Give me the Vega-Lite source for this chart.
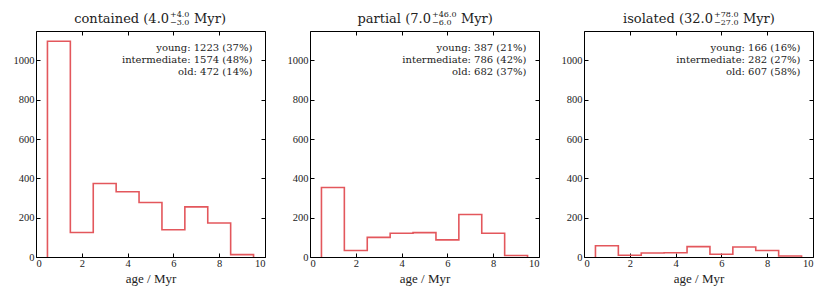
{
  "$schema": "https://vega.github.io/schema/vega-lite/v6.json",
  "background": "white",
  "padding": {"left": 12, "top": 10, "right": 5, "bottom": 5},
  "spacing": 45,
  "bounds": "flush",
  "config": {
    "font": "Liberation Serif",
    "view": {"stroke": "black", "strokeWidth": 1},
    "style": {
      "guide-label": {"font": "Liberation Serif", "fontSize": 10.5, "fill": "#222222"},
      "guide-title": {"font": "Liberation Serif", "fontSize": 13, "fill": "#222222", "fontWeight": "normal"}
    },
    "axis": {
      "grid": false,
      "domain": false,
      "tickColor": "black",
      "tickSize": -4,
      "tickWidth": 1,
      "labelFont": "Liberation Serif",
      "labelFontSize": 10.5,
      "labelColor": "#222222",
      "titleFont": "Liberation Serif",
      "titleFontSize": 13,
      "titleFontWeight": "normal",
      "titleColor": "#222222",
      "format": "d"
    }
  },
  "datasets": {
    "hist": [
      {"panel": "contained", "i": 0, "age": 0.5, "count": 0},
      {"panel": "contained", "i": 1, "age": 0.5, "count": 1098},
      {"panel": "contained", "i": 2, "age": 1.5, "count": 125},
      {"panel": "contained", "i": 3, "age": 2.5, "count": 374},
      {"panel": "contained", "i": 4, "age": 3.5, "count": 332},
      {"panel": "contained", "i": 5, "age": 4.5, "count": 277},
      {"panel": "contained", "i": 6, "age": 5.5, "count": 139},
      {"panel": "contained", "i": 7, "age": 6.5, "count": 255},
      {"panel": "contained", "i": 8, "age": 7.5, "count": 173},
      {"panel": "contained", "i": 9, "age": 8.5, "count": 12},
      {"panel": "contained", "i": 10, "age": 9.5, "count": 0},
      {"panel": "partial", "i": 0, "age": 0.5, "count": 0},
      {"panel": "partial", "i": 1, "age": 0.5, "count": 354},
      {"panel": "partial", "i": 2, "age": 1.5, "count": 33},
      {"panel": "partial", "i": 3, "age": 2.5, "count": 100},
      {"panel": "partial", "i": 4, "age": 3.5, "count": 121},
      {"panel": "partial", "i": 5, "age": 4.5, "count": 124},
      {"panel": "partial", "i": 6, "age": 5.5, "count": 87},
      {"panel": "partial", "i": 7, "age": 6.5, "count": 216},
      {"panel": "partial", "i": 8, "age": 7.5, "count": 121},
      {"panel": "partial", "i": 9, "age": 8.5, "count": 8},
      {"panel": "partial", "i": 10, "age": 9.5, "count": 0},
      {"panel": "isolated", "i": 0, "age": 0.5, "count": 0},
      {"panel": "isolated", "i": 1, "age": 0.5, "count": 57},
      {"panel": "isolated", "i": 2, "age": 1.5, "count": 9},
      {"panel": "isolated", "i": 3, "age": 2.5, "count": 20},
      {"panel": "isolated", "i": 4, "age": 3.5, "count": 22},
      {"panel": "isolated", "i": 5, "age": 4.5, "count": 53},
      {"panel": "isolated", "i": 6, "age": 5.5, "count": 14},
      {"panel": "isolated", "i": 7, "age": 6.5, "count": 51},
      {"panel": "isolated", "i": 8, "age": 7.5, "count": 33},
      {"panel": "isolated", "i": 9, "age": 8.5, "count": 5},
      {"panel": "isolated", "i": 10, "age": 9.5, "count": 0}
    ]
  },
  "hconcat": [
    {
      "width": 229, "height": 226,
      "resolve": {"axis": {"x": "independent", "y": "independent"}},
      "layer": [
        {
          "data": {"name": "hist"},
          "transform": [{"filter": "datum.panel === 'contained'"}],
          "mark": {"type": "line", "interpolate": "step-after", "color": "#e3575c", "strokeWidth": 1.6},
          "encoding": {
            "x": {"field": "age", "type": "quantitative", "scale": {"domain": [0, 10], "nice": false}, "axis": {"orient": "bottom", "values": [0, 2, 4, 6, 8, 10], "title": "age / Myr", "labelPadding": 5, "titlePadding": 4}},
            "y": {"field": "count", "type": "quantitative", "scale": {"domain": [0, 1150], "nice": false}, "axis": {"orient": "left", "values": [0, 200, 400, 600, 800, 1000], "title": null, "labelPadding": 6}},
            "order": {"field": "i", "type": "quantitative"}
          }
        },
        {
          "data": {"name": "hist"},
          "transform": [{"filter": "datum.panel === 'contained'"}],
          "mark": {"type": "line", "strokeOpacity": 0},
          "encoding": {
            "x": {"field": "age", "type": "quantitative", "axis": {"orient": "top", "values": [0, 2, 4, 6, 8, 10], "labels": false, "title": null}},
            "y": {"field": "count", "type": "quantitative", "axis": {"orient": "right", "values": [0, 200, 400, 600, 800, 1000], "labels": false, "title": null}},
            "order": {"field": "i", "type": "quantitative"}
          }
        },
        {
          "data": {"values": [{}]},
          "mark": {"type": "text", "align": "right", "baseline": "alphabetic", "font": "DejaVu Serif", "fontSize": 10, "lineHeight": 12.2, "color": "#222222"},
          "encoding": {
            "x": {"datum": 9.45, "type": "quantitative", "axis": null},
            "y": {"datum": 1048, "type": "quantitative", "axis": null},
            "text": {"value": ["young: 1223 (37%)", "intermediate: 1574 (48%)", "old: 472 (14%)"]}
          }
        },
        {
          "data": {"values": [{}]},
          "mark": {"type": "text", "align": "right", "baseline": "alphabetic", "font": "DejaVu Serif", "fontSize": 13, "color": "#222222"},
          "encoding": {
            "x": {"datum": 5.81, "type": "quantitative", "axis": null},
            "y": {"datum": 1192, "type": "quantitative", "axis": null},
            "text": {"value": "contained (4.0"}
          }
        },
        {
          "data": {"values": [{}]},
          "mark": {"type": "text", "align": "left", "baseline": "alphabetic", "font": "DejaVu Serif", "fontSize": 8, "color": "#222222"},
          "encoding": {
            "x": {"datum": 5.85, "type": "quantitative", "axis": null},
            "y": {"datum": 1221, "type": "quantitative", "axis": null},
            "text": {"value": "+4.0"}
          }
        },
        {
          "data": {"values": [{}]},
          "mark": {"type": "text", "align": "left", "baseline": "alphabetic", "font": "DejaVu Serif", "fontSize": 8, "color": "#222222"},
          "encoding": {
            "x": {"datum": 5.85, "type": "quantitative", "axis": null},
            "y": {"datum": 1178, "type": "quantitative", "axis": null},
            "text": {"value": "−3.0"}
          }
        },
        {
          "data": {"values": [{}]},
          "mark": {"type": "text", "align": "left", "baseline": "alphabetic", "font": "DejaVu Serif", "fontSize": 13, "color": "#222222"},
          "encoding": {
            "x": {"datum": 6.9, "type": "quantitative", "axis": null},
            "y": {"datum": 1192, "type": "quantitative", "axis": null},
            "text": {"value": "Myr)"}
          }
        }
      ]
    },
    {
      "width": 229, "height": 226,
      "resolve": {"axis": {"x": "independent", "y": "independent"}},
      "layer": [
        {
          "data": {"name": "hist"},
          "transform": [{"filter": "datum.panel === 'partial'"}],
          "mark": {"type": "line", "interpolate": "step-after", "color": "#e3575c", "strokeWidth": 1.6},
          "encoding": {
            "x": {"field": "age", "type": "quantitative", "scale": {"domain": [0, 10], "nice": false}, "axis": {"orient": "bottom", "values": [0, 2, 4, 6, 8, 10], "title": "age / Myr", "labelPadding": 5, "titlePadding": 4}},
            "y": {"field": "count", "type": "quantitative", "scale": {"domain": [0, 1150], "nice": false}, "axis": {"orient": "left", "values": [0, 200, 400, 600, 800, 1000], "title": null, "labelPadding": 6}},
            "order": {"field": "i", "type": "quantitative"}
          }
        },
        {
          "data": {"name": "hist"},
          "transform": [{"filter": "datum.panel === 'partial'"}],
          "mark": {"type": "line", "strokeOpacity": 0},
          "encoding": {
            "x": {"field": "age", "type": "quantitative", "axis": {"orient": "top", "values": [0, 2, 4, 6, 8, 10], "labels": false, "title": null}},
            "y": {"field": "count", "type": "quantitative", "axis": {"orient": "right", "values": [0, 200, 400, 600, 800, 1000], "labels": false, "title": null}},
            "order": {"field": "i", "type": "quantitative"}
          }
        },
        {
          "data": {"values": [{}]},
          "mark": {"type": "text", "align": "right", "baseline": "alphabetic", "font": "DejaVu Serif", "fontSize": 10, "lineHeight": 12.2, "color": "#222222"},
          "encoding": {
            "x": {"datum": 9.45, "type": "quantitative", "axis": null},
            "y": {"datum": 1048, "type": "quantitative", "axis": null},
            "text": {"value": ["young: 387 (21%)", "intermediate: 786 (42%)", "old: 682 (37%)"]}
          }
        },
        {
          "data": {"values": [{}]},
          "mark": {"type": "text", "align": "right", "baseline": "alphabetic", "font": "DejaVu Serif", "fontSize": 13, "color": "#222222"},
          "encoding": {
            "x": {"datum": 5.28, "type": "quantitative", "axis": null},
            "y": {"datum": 1192, "type": "quantitative", "axis": null},
            "text": {"value": "partial (7.0"}
          }
        },
        {
          "data": {"values": [{}]},
          "mark": {"type": "text", "align": "left", "baseline": "alphabetic", "font": "DejaVu Serif", "fontSize": 8, "color": "#222222"},
          "encoding": {
            "x": {"datum": 5.33, "type": "quantitative", "axis": null},
            "y": {"datum": 1221, "type": "quantitative", "axis": null},
            "text": {"value": "+46.0"}
          }
        },
        {
          "data": {"values": [{}]},
          "mark": {"type": "text", "align": "left", "baseline": "alphabetic", "font": "DejaVu Serif", "fontSize": 8, "color": "#222222"},
          "encoding": {
            "x": {"datum": 5.33, "type": "quantitative", "axis": null},
            "y": {"datum": 1178, "type": "quantitative", "axis": null},
            "text": {"value": "−6.0"}
          }
        },
        {
          "data": {"values": [{}]},
          "mark": {"type": "text", "align": "left", "baseline": "alphabetic", "font": "DejaVu Serif", "fontSize": 13, "color": "#222222"},
          "encoding": {
            "x": {"datum": 6.59, "type": "quantitative", "axis": null},
            "y": {"datum": 1192, "type": "quantitative", "axis": null},
            "text": {"value": "Myr)"}
          }
        }
      ]
    },
    {
      "width": 229, "height": 226,
      "resolve": {"axis": {"x": "independent", "y": "independent"}},
      "layer": [
        {
          "data": {"name": "hist"},
          "transform": [{"filter": "datum.panel === 'isolated'"}],
          "mark": {"type": "line", "interpolate": "step-after", "color": "#e3575c", "strokeWidth": 1.6},
          "encoding": {
            "x": {"field": "age", "type": "quantitative", "scale": {"domain": [0, 10], "nice": false}, "axis": {"orient": "bottom", "values": [0, 2, 4, 6, 8, 10], "title": "age / Myr", "labelPadding": 5, "titlePadding": 4}},
            "y": {"field": "count", "type": "quantitative", "scale": {"domain": [0, 1150], "nice": false}, "axis": {"orient": "left", "values": [0, 200, 400, 600, 800, 1000], "title": null, "labelPadding": 6}},
            "order": {"field": "i", "type": "quantitative"}
          }
        },
        {
          "data": {"name": "hist"},
          "transform": [{"filter": "datum.panel === 'isolated'"}],
          "mark": {"type": "line", "strokeOpacity": 0},
          "encoding": {
            "x": {"field": "age", "type": "quantitative", "axis": {"orient": "top", "values": [0, 2, 4, 6, 8, 10], "labels": false, "title": null}},
            "y": {"field": "count", "type": "quantitative", "axis": {"orient": "right", "values": [0, 200, 400, 600, 800, 1000], "labels": false, "title": null}},
            "order": {"field": "i", "type": "quantitative"}
          }
        },
        {
          "data": {"values": [{}]},
          "mark": {"type": "text", "align": "right", "baseline": "alphabetic", "font": "DejaVu Serif", "fontSize": 10, "lineHeight": 12.2, "color": "#222222"},
          "encoding": {
            "x": {"datum": 9.45, "type": "quantitative", "axis": null},
            "y": {"datum": 1048, "type": "quantitative", "axis": null},
            "text": {"value": ["young: 166 (16%)", "intermediate: 282 (27%)", "old: 607 (58%)"]}
          }
        },
        {
          "data": {"values": [{}]},
          "mark": {"type": "text", "align": "right", "baseline": "alphabetic", "font": "DejaVu Serif", "fontSize": 13, "color": "#222222"},
          "encoding": {
            "x": {"datum": 5.63, "type": "quantitative", "axis": null},
            "y": {"datum": 1192, "type": "quantitative", "axis": null},
            "text": {"value": "isolated (32.0"}
          }
        },
        {
          "data": {"values": [{}]},
          "mark": {"type": "text", "align": "left", "baseline": "alphabetic", "font": "DejaVu Serif", "fontSize": 8, "color": "#222222"},
          "encoding": {
            "x": {"datum": 5.68, "type": "quantitative", "axis": null},
            "y": {"datum": 1221, "type": "quantitative", "axis": null},
            "text": {"value": "+78.0"}
          }
        },
        {
          "data": {"values": [{}]},
          "mark": {"type": "text", "align": "left", "baseline": "alphabetic", "font": "DejaVu Serif", "fontSize": 8, "color": "#222222"},
          "encoding": {
            "x": {"datum": 5.68, "type": "quantitative", "axis": null},
            "y": {"datum": 1178, "type": "quantitative", "axis": null},
            "text": {"value": "−27.0"}
          }
        },
        {
          "data": {"values": [{}]},
          "mark": {"type": "text", "align": "left", "baseline": "alphabetic", "font": "DejaVu Serif", "fontSize": 13, "color": "#222222"},
          "encoding": {
            "x": {"datum": 6.94, "type": "quantitative", "axis": null},
            "y": {"datum": 1192, "type": "quantitative", "axis": null},
            "text": {"value": "Myr)"}
          }
        }
      ]
    }
  ]
}
